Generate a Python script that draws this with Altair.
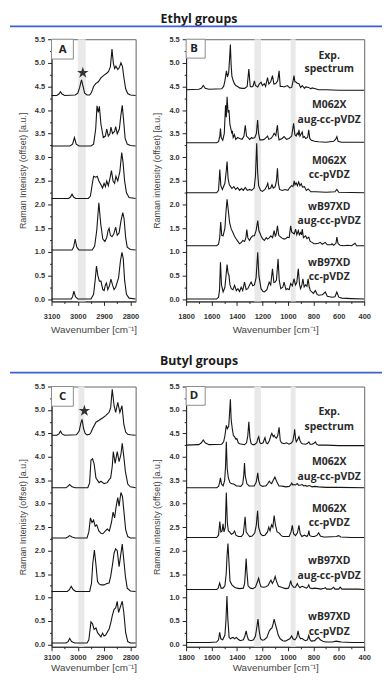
import altair as alt
import pandas as pd

# ---------------- data ----------------
SERIES = ["Exp. spectrum", "M062X aug-cc-pVDZ", "M062X cc-pVDZ", "wB97XD aug-cc-pVDZ", "wB97XD cc-pVDZ"]

# Panel A (ethyl, C-H stretching region)
A_EXP = [(3100,4.31),(3080,4.31),(3072,4.34),(3066,4.39),(3060,4.34),(3050,4.31),(3010,4.32),(3000,4.36),(2993,4.48),(2986,4.64),(2980,4.50),(2974,4.36),(2965,4.32),(2955,4.32),(2948,4.37),(2940,4.50),(2932,4.56),(2922,4.60),(2912,4.68),(2900,4.74),(2890,4.78),(2883,4.82),(2876,4.92),(2870,5.29),(2865,5.00),(2860,4.88),(2855,4.93),(2848,4.86),(2842,4.90),(2836,5.00),(2830,4.92),(2825,4.70),(2818,4.45),(2810,4.35),(2800,4.32),(2780,4.31)]
A_M_AUG = [(3100,3.24),(3030,3.24),(3020,3.28),(3013,3.42),(3006,3.28),(2995,3.24),(2950,3.24),(2940,3.28),(2932,3.60),(2927,4.09),(2922,3.95),(2918,4.08),(2912,3.70),(2903,3.42),(2895,3.45),(2890,3.60),(2884,3.45),(2878,3.50),(2874,3.64),(2868,3.50),(2860,3.55),(2856,3.65),(2850,3.50),(2842,3.60),(2836,3.90),(2831,4.10),(2826,3.80),(2820,3.40),(2812,3.28),(2800,3.25),(2780,3.24)]
A_M_CC = [(3100,2.13),(3035,2.13),(3028,2.16),(3022,2.22),(3016,2.16),(3008,2.13),(2960,2.13),(2952,2.18),(2946,2.40),(2940,2.60),(2932,2.58),(2926,2.60),(2920,2.50),(2912,2.42),(2906,2.35),(2900,2.45),(2895,2.38),(2890,2.50),(2884,2.40),(2878,2.55),(2872,2.72),(2866,2.50),(2860,2.45),(2855,2.60),(2848,2.50),(2840,2.70),(2833,3.10),(2828,2.90),(2822,2.50),(2815,2.25),(2805,2.15),(2780,2.13)]
A_W_AUG = [(3100,1.04),(3022,1.04),(3016,1.10),(3010,1.27),(3004,1.10),(2996,1.04),(2945,1.04),(2936,1.12),(2928,1.45),(2920,2.04),(2913,1.60),(2905,1.27),(2897,1.22),(2890,1.30),(2885,1.45),(2881,1.50),(2876,1.35),(2870,1.32),(2863,1.38),(2856,1.52),(2850,1.35),(2843,1.40),(2836,1.65),(2829,1.83),(2824,1.70),(2818,1.30),(2812,1.10),(2800,1.05),(2780,1.04)]
A_W_CC = [(3100,0.0),(3025,0.0),(3020,0.05),(3015,0.17),(3009,0.05),(3000,0.0),(2950,0.0),(2940,0.10),(2934,0.40),(2929,0.70),(2924,0.50),(2918,0.38),(2912,0.38),(2905,0.20),(2900,0.18),(2895,0.30),(2891,0.34),(2886,0.20),(2880,0.28),(2874,0.42),(2868,0.30),(2862,0.20),(2856,0.25),(2845,0.45),(2838,0.80),(2832,0.99),(2827,0.85),(2822,0.40),(2815,0.10),(2805,0.02),(2780,0.0)]

# Panel B (ethyl, fingerprint region)
B_EXP = [(1800,4.43),(1700,4.44),(1680,4.46),(1665,4.52),(1650,4.46),(1620,4.44),(1520,4.45),(1505,4.50),(1495,4.62),(1483,4.83),(1475,4.70),(1465,4.80),(1458,5.10),(1452,5.39),(1446,4.95),(1440,4.72),(1430,4.62),(1420,4.56),(1410,4.52),(1395,4.50),(1380,4.47),(1360,4.46),(1340,4.46),(1320,4.50),(1307,4.87),(1296,4.50),(1289,4.49),(1275,4.50),(1263,4.62),(1255,4.52),(1237,4.49),(1225,4.55),(1211,4.59),(1200,4.52),(1185,4.56),(1175,4.50),(1160,4.69),(1150,4.55),(1135,4.60),(1121,4.73),(1110,4.55),(1095,4.56),(1080,4.62),(1069,4.83),(1060,4.50),(1040,4.50),(1030,4.49),(1004,4.52),(985,4.47),(970,4.48),(960,4.60),(952,4.73),(945,4.60),(939,4.60),(926,4.57),(913,4.56),(900,4.48),(887,4.52),(870,4.46),(861,4.49),(836,4.48),(820,4.45),(810,4.47),(784,4.45),(758,4.43),(700,4.43),(600,4.42),(400,4.42)]
B_M_AUG = [(1800,3.31),(1560,3.31),(1545,3.33),(1535,3.45),(1530,3.61),(1524,3.42),(1512,3.36),(1500,3.50),(1490,4.10),(1484,3.85),(1478,4.28),(1470,3.95),(1463,4.00),(1456,3.70),(1448,3.60),(1440,3.50),(1436,3.56),(1430,3.42),(1420,3.48),(1410,3.38),(1395,3.42),(1380,3.40),(1360,3.38),(1345,3.45),(1335,3.68),(1325,3.45),(1315,3.42),(1300,3.38),(1285,3.42),(1276,3.40),(1260,3.42),(1248,3.50),(1238,3.79),(1230,3.50),(1220,3.37),(1198,3.37),(1185,3.38),(1170,3.42),(1160,3.45),(1150,3.38),(1134,3.40),(1120,3.44),(1108,3.51),(1095,3.46),(1082,3.68),(1075,3.45),(1069,3.37),(1045,3.40),(1030,3.44),(1010,3.38),(991,3.40),(970,3.45),(955,3.72),(945,3.48),(935,3.45),(926,3.51),(918,3.48),(913,3.58),(905,3.45),(895,3.50),(887,3.54),(880,3.42),(870,3.44),(860,3.40),(845,3.42),(836,3.58),(828,3.40),(815,3.36),(790,3.34),(760,3.33),(700,3.32),(640,3.34),(625,3.38),(615,3.44),(605,3.34),(580,3.32),(400,3.32)]
B_M_CC = [(1800,2.25),(1560,2.25),(1545,2.30),(1535,2.74),(1527,2.40),(1515,2.32),(1495,2.45),(1485,2.70),(1478,2.91),(1470,2.55),(1460,2.42),(1450,2.38),(1440,2.34),(1425,2.38),(1410,2.32),(1395,2.36),(1380,2.30),(1365,2.34),(1350,2.30),(1335,2.36),(1320,2.30),(1300,2.32),(1285,2.30),(1265,2.35),(1255,2.60),(1245,3.30),(1238,2.70),(1230,2.40),(1215,2.30),(1200,2.28),(1180,2.32),(1165,2.40),(1158,2.45),(1150,2.33),(1135,2.35),(1125,2.42),(1115,2.35),(1100,2.38),(1090,2.50),(1082,2.77),(1075,2.45),(1065,2.32),(1045,2.30),(1020,2.32),(1000,2.30),(985,2.36),(970,2.40),(960,2.38),(950,2.50),(944,2.42),(935,2.46),(925,2.40),(915,2.48),(905,2.40),(895,2.44),(885,2.37),(870,2.38),(855,2.30),(840,2.33),(820,2.27),(780,2.27),(700,2.26),(630,2.27),(615,2.32),(600,2.26),(400,2.25)]
B_W_AUG = [(1800,1.13),(1560,1.13),(1545,1.16),(1536,1.30),(1528,1.63),(1520,1.35),(1509,1.34),(1495,1.50),(1485,1.90),(1478,2.11),(1468,1.87),(1458,1.62),(1445,1.48),(1432,1.41),(1420,1.33),(1406,1.27),(1393,1.22),(1380,1.17),(1365,1.20),(1354,1.24),(1340,1.22),(1330,1.30),(1323,1.47),(1315,1.30),(1302,1.24),(1290,1.30),(1276,1.34),(1263,1.34),(1250,1.45),(1237,1.66),(1228,1.45),(1211,1.34),(1200,1.28),(1185,1.24),(1170,1.30),(1160,1.27),(1145,1.30),(1134,1.34),(1120,1.30),(1108,1.45),(1098,1.32),(1090,1.40),(1082,1.55),(1072,1.35),(1056,1.31),(1040,1.28),(1030,1.27),(1015,1.28),(1004,1.31),(990,1.30),(978,1.55),(970,1.42),(965,1.41),(950,1.38),(939,1.48),(930,1.36),(918,1.45),(910,1.36),(900,1.41),(893,1.36),(887,1.48),(878,1.30),(861,1.34),(850,1.28),(836,1.31),(825,1.22),(810,1.20),(795,1.17),(784,1.17),(760,1.18),(745,1.20),(730,1.16),(706,1.20),(690,1.15),(660,1.15),(654,1.17),(640,1.14),(622,1.18),(615,1.31),(605,1.17),(590,1.14),(560,1.13),(530,1.14),(500,1.13),(472,1.18),(460,1.13),(400,1.13)]
B_W_CC = [(1800,0.0),(1560,0.0),(1545,0.04),(1537,0.20),(1530,0.78),(1522,0.30),(1509,0.15),(1495,0.25),(1486,0.50),(1478,0.73),(1470,0.55),(1463,0.50),(1455,0.30),(1445,0.22),(1432,0.20),(1419,0.29),(1405,0.18),(1393,0.22),(1380,0.16),(1367,0.25),(1355,0.18),(1341,0.36),(1328,0.20),(1315,0.22),(1302,0.29),(1289,0.36),(1276,0.28),(1263,0.30),(1250,0.45),(1237,0.99),(1228,0.50),(1211,0.22),(1195,0.16),(1185,0.15),(1165,0.20),(1147,0.36),(1135,0.30),(1121,0.64),(1110,0.35),(1100,0.36),(1090,0.40),(1077,0.85),(1068,0.40),(1056,0.22),(1040,0.25),(1030,0.36),(1015,0.20),(1004,0.22),(990,0.20),(978,0.33),(965,0.28),(952,0.43),(940,0.30),(930,0.35),(918,0.64),(908,0.30),(900,0.22),(890,0.30),(882,0.43),(872,0.26),(861,0.30),(850,0.27),(841,0.43),(832,0.25),(823,0.18),(800,0.12),(784,0.18),(770,0.10),(758,0.08),(730,0.09),(706,0.15),(690,0.06),(654,0.04),(630,0.05),(615,0.15),(600,0.04),(576,0.02),(500,0.01),(400,0.0)]

# Panel C (butyl, C-H stretching region)
C_EXP = [(3100,4.46),(3080,4.46),(3072,4.49),(3066,4.55),(3060,4.49),(3050,4.46),(3005,4.47),(2995,4.55),(2988,4.73),(2984,4.80),(2978,4.60),(2972,4.50),(2965,4.47),(2955,4.48),(2950,4.52),(2944,4.60),(2931,4.74),(2919,4.78),(2906,4.83),(2894,4.88),(2881,4.95),(2875,5.05),(2869,5.44),(2862,5.09),(2856,4.95),(2848,5.16),(2840,4.95),(2832,5.09),(2825,4.70),(2818,4.53),(2810,4.48),(2800,4.47),(2780,4.46)]
C_M_AUG = [(3100,3.34),(3045,3.34),(3038,3.37),(3031,3.41),(3022,3.36),(3010,3.34),(2962,3.34),(2955,3.45),(2950,3.93),(2944,3.96),(2938,3.85),(2931,3.55),(2919,3.45),(2912,3.48),(2900,3.43),(2888,3.45),(2880,3.52),(2875,3.55),(2869,3.80),(2865,4.11),(2858,3.86),(2850,4.11),(2843,3.90),(2836,4.05),(2831,4.29),(2825,4.00),(2819,3.69),(2810,3.42),(2800,3.36),(2780,3.34)]
C_M_CC = [(3100,2.27),(3045,2.27),(3038,2.29),(3031,2.32),(3022,2.29),(3010,2.27),(2965,2.27),(2958,2.40),(2952,2.70),(2946,2.60),(2940,2.65),(2934,2.52),(2928,2.55),(2920,2.42),(2912,2.37),(2905,2.36),(2895,2.42),(2888,2.46),(2880,2.42),(2872,2.60),(2866,2.82),(2860,2.70),(2854,2.95),(2848,3.13),(2843,2.95),(2836,3.24),(2830,3.15),(2824,2.80),(2818,2.45),(2810,2.30),(2800,2.27),(2780,2.27)]
C_W_AUG = [(3100,1.13),(3040,1.13),(3032,1.17),(3025,1.24),(3018,1.17),(3008,1.13),(2955,1.13),(2948,1.30),(2943,1.73),(2937,2.01),(2931,1.70),(2925,1.34),(2919,1.29),(2912,1.27),(2900,1.27),(2890,1.30),(2881,1.31),(2875,1.45),(2868,1.70),(2862,1.95),(2856,2.04),(2850,2.00),(2843,1.66),(2837,1.90),(2831,2.14),(2825,1.80),(2819,1.45),(2812,1.20),(2800,1.14),(2780,1.13)]
C_W_CC = [(3100,0.03),(3045,0.03),(3037,0.06),(3031,0.13),(3024,0.06),(3012,0.03),(2965,0.03),(2958,0.10),(2950,0.48),(2944,0.44),(2938,0.32),(2931,0.35),(2925,0.25),(2912,0.16),(2906,0.24),(2900,0.18),(2894,0.20),(2881,0.33),(2875,0.45),(2869,0.61),(2862,0.75),(2856,0.78),(2850,0.92),(2845,0.68),(2838,0.80),(2831,0.92),(2825,0.68),(2818,0.25),(2810,0.06),(2800,0.03),(2780,0.03)]

# Panel D (butyl, fingerprint region)
D_EXP = [(1800,4.25),(1700,4.26),(1680,4.30),(1665,4.36),(1650,4.30),(1620,4.26),(1520,4.27),(1505,4.32),(1495,4.45),(1484,4.67),(1476,4.60),(1465,4.65),(1458,4.95),(1452,5.23),(1446,4.80),(1437,4.60),(1428,4.45),(1419,4.43),(1410,4.38),(1401,4.39),(1390,4.30),(1380,4.28),(1360,4.27),(1341,4.26),(1325,4.30),(1315,4.45),(1307,4.75),(1298,4.40),(1289,4.28),(1275,4.26),(1263,4.26),(1245,4.30),(1235,4.40),(1229,4.43),(1220,4.30),(1211,4.28),(1195,4.30),(1180,4.41),(1170,4.30),(1159,4.28),(1145,4.35),(1133,4.46),(1126,4.50),(1115,4.43),(1108,4.46),(1100,4.42),(1090,4.40),(1080,4.45),(1069,4.63),(1060,4.35),(1050,4.30),(1030,4.28),(1010,4.30),(991,4.27),(970,4.30),(960,4.35),(950,4.50),(947,4.59),(940,4.40),(934,4.32),(925,4.36),(913,4.43),(905,4.35),(895,4.30),(887,4.28),(860,4.27),(845,4.29),(835,4.32),(825,4.27),(809,4.27),(795,4.29),(783,4.32),(775,4.27),(758,4.25),(700,4.25),(600,4.24),(500,4.24),(400,4.24)]
D_M_AUG = [(1800,3.34),(1560,3.34),(1545,3.37),(1537,3.45),(1530,3.55),(1522,3.42),(1509,3.38),(1497,3.50),(1490,3.80),(1484,4.32),(1477,3.75),(1468,3.55),(1455,3.45),(1445,3.43),(1430,3.42),(1419,3.41),(1405,3.38),(1393,3.38),(1370,3.37),(1355,3.42),(1347,3.60),(1341,3.87),(1335,3.60),(1323,3.43),(1305,3.38),(1289,3.38),(1265,3.38),(1250,3.45),(1243,3.55),(1237,3.66),(1230,3.50),(1219,3.40),(1200,3.37),(1185,3.38),(1172,3.38),(1160,3.42),(1146,3.48),(1138,3.45),(1128,3.43),(1115,3.50),(1102,3.57),(1092,3.50),(1082,3.44),(1070,3.38),(1056,3.38),(1035,3.37),(1017,3.36),(990,3.37),(978,3.40),(970,3.44),(960,3.40),(952,3.41),(940,3.40),(926,3.43),(915,3.39),(900,3.40),(887,3.41),(875,3.38),(861,3.39),(850,3.37),(835,3.39),(822,3.38),(810,3.36),(790,3.37),(758,3.36),(700,3.35),(600,3.35),(400,3.34)]
D_M_CC = [(1800,2.28),(1560,2.28),(1545,2.33),(1535,2.62),(1527,2.40),(1517,2.42),(1510,2.57),(1502,2.40),(1492,2.50),(1484,3.24),(1476,2.60),(1468,2.42),(1458,2.40),(1445,2.35),(1430,2.37),(1419,2.42),(1408,2.33),(1390,2.30),(1365,2.30),(1350,2.36),(1336,2.72),(1328,2.40),(1315,2.35),(1300,2.30),(1280,2.31),(1260,2.38),(1248,2.55),(1238,2.85),(1230,2.50),(1215,2.36),(1200,2.32),(1180,2.33),(1160,2.40),(1150,2.50),(1140,2.42),(1128,2.55),(1118,2.50),(1108,2.75),(1098,2.55),(1085,2.40),(1070,2.38),(1055,2.33),(1040,2.30),(1020,2.30),(990,2.30),(975,2.40),(965,2.54),(955,2.36),(940,2.32),(925,2.38),(913,2.54),(903,2.36),(890,2.30),(870,2.33),(850,2.30),(840,2.35),(835,2.43),(828,2.32),(810,2.30),(790,2.30),(770,2.33),(758,2.38),(745,2.31),(720,2.29),(700,2.29),(620,2.30),(600,2.32),(585,2.29),(500,2.28),(400,2.28)]
D_W_AUG = [(1800,1.17),(1560,1.17),(1548,1.20),(1536,1.31),(1525,1.20),(1510,1.20),(1495,1.25),(1485,1.50),(1478,1.90),(1471,2.15),(1464,1.80),(1455,1.35),(1440,1.27),(1419,1.22),(1400,1.20),(1380,1.19),(1350,1.20),(1340,1.30),(1333,1.60),(1328,1.83),(1322,1.55),(1313,1.25),(1295,1.20),(1276,1.19),(1255,1.22),(1240,1.33),(1230,1.41),(1220,1.30),(1211,1.23),(1190,1.22),(1172,1.23),(1155,1.26),(1140,1.34),(1133,1.37),(1122,1.30),(1110,1.36),(1100,1.45),(1090,1.35),(1074,1.24),(1050,1.22),(1030,1.20),(1017,1.19),(995,1.20),(985,1.28),(978,1.36),(970,1.27),(955,1.22),(940,1.22),(926,1.30),(918,1.25),(905,1.21),(895,1.23),(885,1.24),(870,1.22),(855,1.20),(845,1.22),(836,1.27),(826,1.20),(810,1.19),(790,1.20),(760,1.19),(740,1.18),(715,1.20),(706,1.21),(695,1.18),(660,1.18),(641,1.22),(630,1.18),(600,1.18),(589,1.22),(575,1.18),(540,1.18),(500,1.18),(450,1.18),(400,1.17)]
D_W_CC = [(1800,0.04),(1620,0.04),(1560,0.05),(1545,0.10),(1536,0.26),(1527,0.12),(1512,0.10),(1495,0.20),(1487,0.50),(1479,1.03),(1472,0.55),(1462,0.15),(1450,0.12),(1440,0.14),(1430,0.15),(1419,0.12),(1405,0.15),(1395,0.12),(1375,0.08),(1350,0.10),(1338,0.18),(1328,0.29),(1320,0.18),(1310,0.10),(1290,0.08),(1270,0.10),(1255,0.18),(1245,0.35),(1235,0.54),(1226,0.30),(1215,0.12),(1200,0.09),(1185,0.10),(1165,0.15),(1146,0.29),(1135,0.33),(1125,0.35),(1115,0.45),(1108,0.54),(1100,0.45),(1090,0.35),(1076,0.20),(1060,0.12),(1040,0.08),(1020,0.07),(1000,0.10),(985,0.12),(970,0.18),(960,0.12),(945,0.10),(930,0.15),(920,0.29),(912,0.18),(900,0.12),(890,0.13),(875,0.10),(860,0.08),(845,0.10),(836,0.19),(826,0.10),(815,0.07),(790,0.08),(775,0.12),(760,0.15),(745,0.10),(720,0.06),(700,0.05),(650,0.05),(620,0.07),(600,0.06),(580,0.05),(500,0.04),(400,0.04)]

# text labels of the fingerprint panels
LABEL_LINES = ["Exp.", "spectrum", "M062X", "aug-cc-pVDZ", "M062X", "cc-pVDZ", "wB97XD", "aug-cc-pVDZ", "wB97XD", "cc-pVDZ"]
B_LABEL_V = [5.15, 4.87, 4.11, 3.80, 2.93, 2.62, 1.95, 1.66, 0.76, 0.47]
D_LABEL_V = [4.96, 4.64, 3.88, 3.58, 2.89, 2.58, 1.77, 1.46, 0.58, 0.27]
LABEL_WN = 675

# highlighted (gray) wavenumber bands
A_BANDS = [(3000, 2970)]
C_BANDS = [(2998, 2975)]
FP_BANDS = [(1263, 1211), (978, 939)]

# star markers (wavenumber, offset intensity)
A_STAR = (2981, 4.79)
C_STAR = (2975, 4.98)

# axis ticks
CH_XTICKS = [3100, 3050, 3000, 2950, 2900, 2850, 2800]
FP_XTICKS = [1800, 1700, 1600, 1500, 1400, 1300, 1200, 1100, 1000, 900, 800, 700, 600, 500, 400]
Y_TICKS = [0.0, 0.25, 0.5, 0.75, 1.0, 1.25, 1.5, 1.75, 2.0, 2.25, 2.5, 2.75, 3.0, 3.25, 3.5, 3.75, 4.0, 4.25, 4.5, 4.75, 5.0, 5.25, 5.5]

STAR = "M0,-1L0.2245,-0.309L0.951,-0.309L0.363,0.118L0.588,0.809L0,0.382L-0.588,0.809L-0.363,0.118L-0.951,-0.309L-0.2245,-0.309Z"


def spectra_df(arrays):
    rows = []
    for name, arr in zip(SERIES, arrays):
        for wn, v in arr:
            rows.append({"series": name, "wn": wn, "v": v})
    return pd.DataFrame(rows)


def panel(arrays, xdomain, xticks, xmajor, bands, box, letter, letter_pos, star,
          labels_v, ytitle, width, height, lab_pad, title_pad):
    xaxis = alt.Axis(
        values=xticks, format="d",
        labelExpr=f"datum.value % {xmajor} == 0 ? datum.label : ''",
        tickSize={"condition": {"test": f"datum.value % {xmajor} == 0", "value": 4}, "value": 2},
        title="Wavenumber [cm\u207b\u00b9]", labelOverlap=False, labelFlush=False,
        labelPadding=lab_pad, titlePadding=title_pad, titleFontSize=10,
    )
    X = alt.X("wn:Q", scale=alt.Scale(domain=xdomain, reverse=True, nice=False, zero=False), axis=xaxis)
    major_y = "abs(datum.value * 2 - round(datum.value * 2)) < 0.01"
    yaxis = alt.Axis(
        values=Y_TICKS, format=".1f",
        labelExpr=f"{major_y} ? datum.label : ''",
        tickSize={"condition": {"test": major_y, "value": 4}, "value": 2},
        title=ytitle, labelOverlap=False, labelFlush=False, labelPadding=3, titlePadding=7,
    )
    Y = alt.Y("v:Q", scale=alt.Scale(domain=[-0.05, 5.5], nice=False, zero=False), axis=yaxis)

    band_df = pd.DataFrame({"wn": [b[0] for b in bands], "wn2": [b[1] for b in bands]})
    layers = [
        alt.Chart(band_df).mark_rect(color="#e9e9e9").encode(
            x=X, x2="wn2:Q", y=alt.value(0), y2=alt.value(height)),
        alt.Chart(spectra_df(arrays)).mark_line(color="#151515", strokeWidth=1.1).encode(
            x=X, y=Y, detail="series:N"),
    ]
    box_df = pd.DataFrame({"wn": [box[0]], "wn2": [box[1]], "v": [box[2]], "v2": [box[3]]})
    layers.append(alt.Chart(box_df).mark_rect(fill="white", stroke="#8c8c8c", strokeWidth=1).encode(
        x=X, x2="wn2:Q", y=Y, y2="v2:Q"))
    let_df = pd.DataFrame({"wn": [letter_pos[0]], "v": [letter_pos[1]], "t": [letter]})
    layers.append(alt.Chart(let_df).mark_text(font="Open Sans", fontWeight="bold", fontSize=11.5,
                                              color="#222").encode(x=X, y=Y, text="t:N"))
    if star is not None:
        star_df = pd.DataFrame({"wn": [star[0]], "v": [star[1]]})
        layers.append(alt.Chart(star_df).mark_point(shape=STAR, filled=True, size=150, color="#333",
                                                    opacity=1).encode(x=X, y=Y))
    if labels_v is not None:
        lab_df = pd.DataFrame({"wn": [LABEL_WN] * len(LABEL_LINES), "v": labels_v, "t": LABEL_LINES})
        layers.append(alt.Chart(lab_df).mark_text(font="Open Sans", fontWeight="bold", fontSize=10.5,
                                                  color="#2a2a2a").encode(x=X, y=Y, text="t:N"))
    return alt.layer(*layers).properties(width=width, height=height)


def header(title, height, text_y, line_y):
    t = alt.Chart(pd.DataFrame({"t": [title]})).mark_text(
        font="Open Sans", fontWeight="bold", fontSize=12.5, baseline="alphabetic", align="center",
        color="#1a1a1a"
    ).encode(text="t:N", x=alt.value(149), y=alt.value(text_y))
    r = alt.Chart(pd.DataFrame({"k": [0]})).mark_rule(color="#3d5fd6", strokeWidth=1.8).encode(
        x=alt.value(-42), x2=alt.value(334), y=alt.value(line_y))
    return alt.layer(t, r).properties(width=85, height=height,
                                      view=alt.ViewBackground(stroke="transparent"))


def spacer(height):
    return alt.Chart(pd.DataFrame({"k": [0]})).mark_rule(opacity=0).encode(
        x=alt.value(10), x2=alt.value(20), y=alt.value(height)
    ).properties(width=180, height=height, view=alt.ViewBackground(stroke="transparent"))


YT_CH = "Raman Intenisty (offset) [a.u.]"
YT_FP = "Raman intensity (offset) [a.u.]"

pA = panel([A_EXP, A_M_AUG, A_M_CC, A_W_AUG, A_W_CC], [2780, 3100], CH_XTICKS, 100, A_BANDS,
           (3100, 3017, 5.08, 5.5), "A", (3058, 5.28), A_STAR, None, YT_CH, 85, 265, 7, 5)
pB = panel([B_EXP, B_M_AUG, B_M_CC, B_W_AUG, B_W_CC], [400, 1800], FP_XTICKS, 200, FP_BANDS,
           (1800, 1650, 5.1, 5.5), "B", (1738, 5.29), None, B_LABEL_V, YT_FP, 180, 265, 7, 5)
pC = panel([C_EXP, C_M_AUG, C_M_CC, C_W_AUG, C_W_CC], [2780, 3100], CH_XTICKS, 100, C_BANDS,
           (3100, 3017, 5.08, 5.5), "C", (3058, 5.28), C_STAR, None, YT_CH, 85, 263, 3, 1)
pD = panel([D_EXP, D_M_AUG, D_M_CC, D_W_AUG, D_W_CC], [400, 1800], FP_XTICKS, 200, FP_BANDS,
           (1800, 1650, 5.1, 5.5), "D", (1738, 5.29), None, D_LABEL_V, YT_FP, 180, 263, 3, 1)

chart = alt.concat(
    header("Ethyl groups", 27, 10.5, 14), spacer(27),
    pA, pB,
    header("Butyl groups", 86, 64, 72), spacer(86),
    pC, pD,
    columns=2, spacing={"row": 0, "column": 51}, bounds="flush",
).properties(padding=0).configure_view(
    stroke="#666", strokeWidth=1
).configure_axis(
    grid=False, domainColor="#222", tickColor="#222",
    labelFont="Liberation Sans", labelFontWeight="bold", labelFontSize=7.5, labelColor="#333",
    titleFont="Liberation Sans", titleFontSize=9, titleFontWeight="normal", titleColor="#444",
)

chart.save("out.html", embed_options={"renderer": "svg", "actions": False})
